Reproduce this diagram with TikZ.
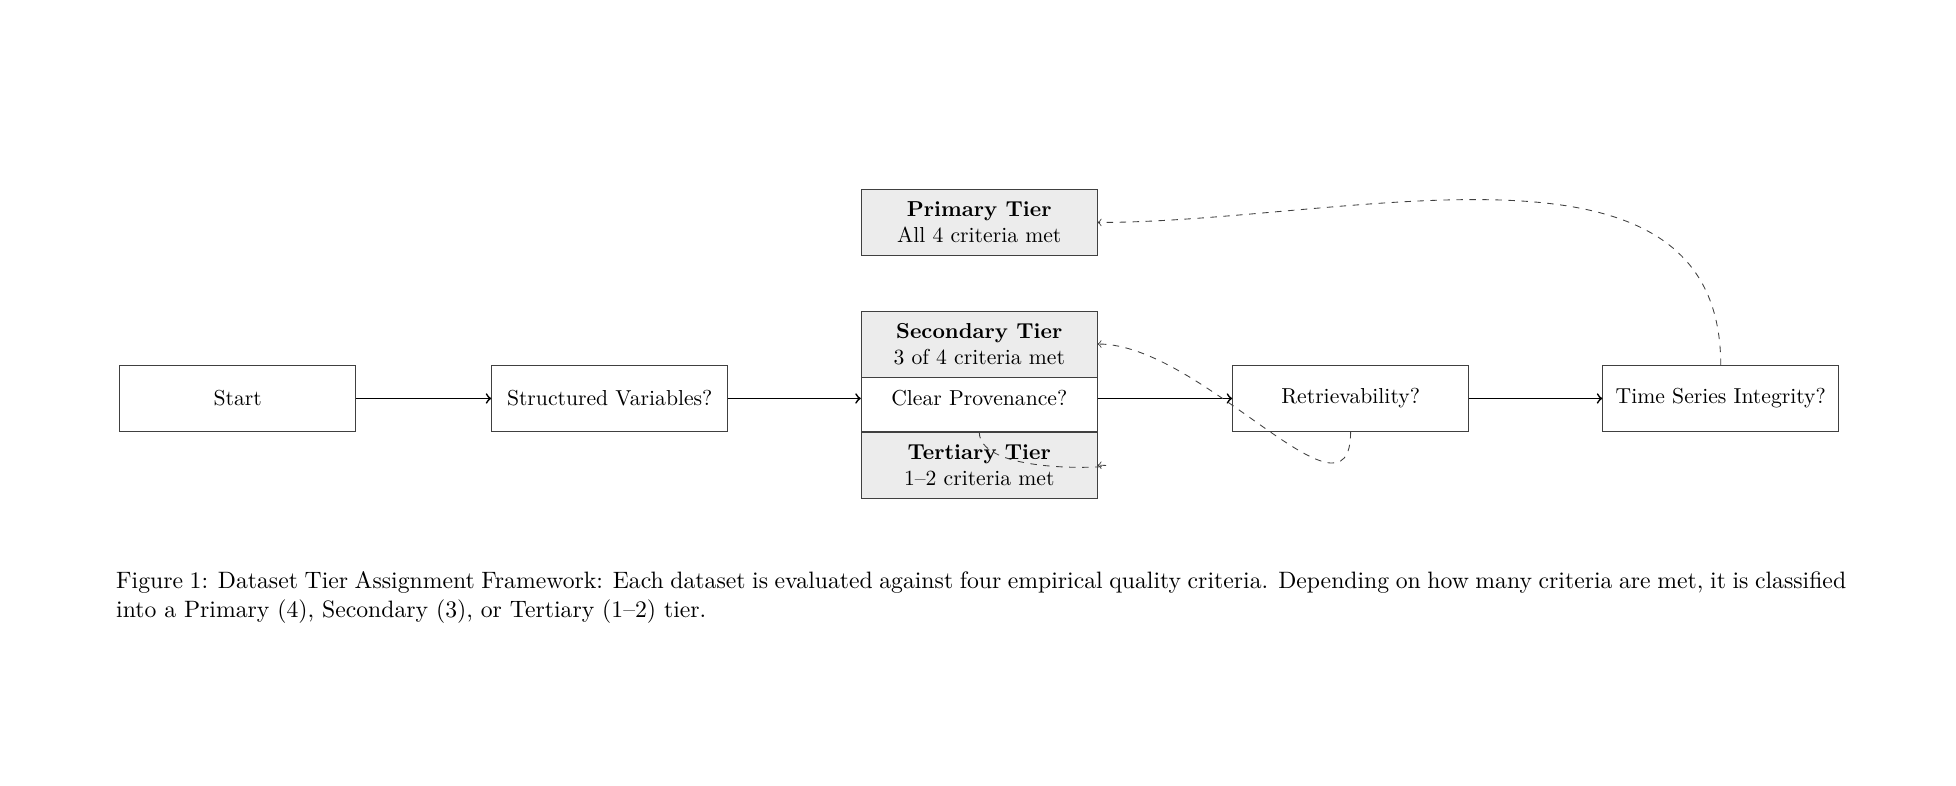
\documentclass[tikz,border=0pt]{standalone}
\usetikzlibrary{positioning}
\begin{document}
\begin{tikzpicture}
[stepnode/.style={shape=rectangle,draw=black!75,minimum width=3.83cm,minimum height=1.07cm,inner sep=2pt},%
  tiernode/.style={stepnode,fill=gray!15,align=center},%
  flowline/.style={->,thick},%
  tierline/.style={->,dashed,draw=black!75}]
\useasboundingbox (0,0) rectangle (31.76,-12.76);
%% decision nodes
\foreach \nodename/\x/\boxtext in {start/3.86/Start,
  struct/9.90/Structured Variables?, prov/15.90/Clear Provenance?,
  retr/21.93/Retrievability?, series/27.94/Time Series Integrity?}
{
  \node (\nodename) at (\x,-6.47) [stepnode] {\boxtext};
}
%% tier nodes
\node (secondary) [tiernode, above=-0.2cm of prov] {\textbf{Secondary Tier}\\3 of 4 criteria met};
\node (tertiary) [tiernode, below=0cm of prov] {\textbf{Tertiary Tier}\\1--2 criteria met};
\node (primary) [tiernode, above=0.89cm of secondary] {\textbf{Primary Tier}\\All 4 criteria met};
%% flow edges
\path
\foreach \startnode/\endnode in {start/struct, struct/prov, prov/retr, retr/series} {
  (\startnode) edge[flowline] (\endnode)
};
%% tier edges
\draw[tierline] (prov.south) to[out=-90,in=0] (tertiary.east);
\draw[tierline] (retr.south) to[out=-90,in=0] (secondary.east);
\draw[tierline] (series.north) to[out=90,in=0] (primary.east);
%% caption
\node (caption) at (1.88,-9.27) [anchor=north west, inner sep=0pt, text width=28.09cm, align=justify,
  font=\fontsize{10.95pt}{13.6pt}\selectfont]
  {Figure 1: Dataset Tier Assignment Framework: Each dataset is evaluated against four empirical quality criteria. Depending on how many criteria are met, it is classified into a Primary (4), Secondary (3), or Tertiary (1--2) tier.};
\end{tikzpicture}
\end{document}
